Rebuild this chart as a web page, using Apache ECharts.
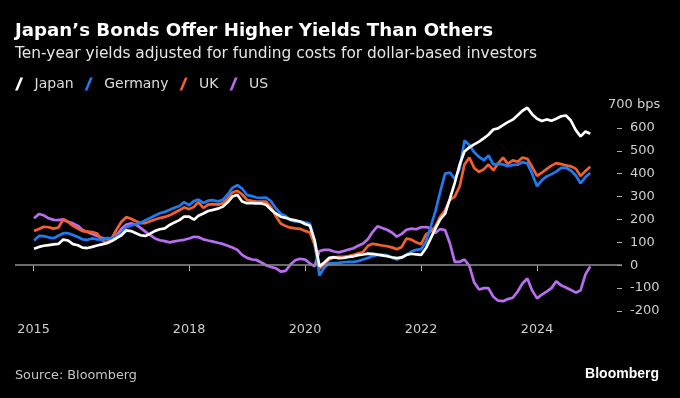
<!DOCTYPE html>
<html>
<head>
<meta charset="utf-8">
<script src="https://cdn.jsdelivr.net/npm/echarts@6/dist/echarts.min.js"></script>
<style>
  html, body { margin: 0; padding: 0; background: #000; }
  #chart { width: 680px; height: 398px; }
</style>
</head>
<body>
<div id="chart"></div>
<script>
// monthly points, May 2015 .. Dec 2024
var months = [];
for (var i = 0; i < 116; i++) {
  var yr = 2015 + Math.floor((4 + i) / 12);
  var mo = ((4 + i) % 12) + 1;
  months.push(yr + "-" + String(mo).padStart(2, "0") + "-01");
}

var japan = [
  72, 80, 85, 88, 91, 93, 112, 108, 92, 87, 77, 75,
  80, 86, 91, 96, 106, 118, 131, 152, 149, 140, 131, 128,
  138, 150, 157, 161, 176, 187, 197, 212, 212, 199, 216, 226,
  237, 242, 247, 256, 275, 300, 308, 278, 271, 271, 270, 270,
  264, 243, 226, 212, 207, 200, 196, 191, 180, 172, 110, -5,
  12, 32, 35, 31, 32, 36, 39, 44, 47, 51, 50, 46,
  43, 39, 35, 31, 34, 45, 50, 47, 45, 75, 115, 160,
  200, 225, 290, 360, 440, 497, 515, 528, 540, 555, 570, 593,
  598, 612, 625, 636, 655, 675, 688, 660, 640, 630, 637, 631,
  640, 651, 654, 632, 590, 563, 584, 574
];
var germany = [
  108, 128, 127, 122, 118, 129, 140, 140, 132, 123, 113, 111,
  117, 113, 112, 118, 118, 125, 140, 166, 174, 179, 185, 197,
  206, 217, 227, 233, 242, 251, 259, 276, 262, 280, 287, 272,
  282, 284, 279, 285, 309, 338, 350, 335, 307, 302, 296, 294,
  295, 280, 249, 225, 215, 197, 191, 191, 187, 181, 110, -45,
  -10, 8, 9, 10, 13, 15, 15, 18, 25, 32, 40, 45,
  45, 44, 33, 25, 34, 45, 60, 67, 70, 104, 165, 235,
  320, 400, 405, 377, 420, 545, 525, 494, 473, 458, 480, 440,
  443, 440, 433, 438, 439, 450, 445, 400, 345, 372, 388, 398,
  409, 425, 426, 414, 392, 358, 385, 403
];
var uk = [
  150, 158, 168, 166, 160, 165, 200, 189, 172, 160, 149, 147,
  145, 138, 110, 97, 118, 155, 190, 210, 203, 192, 184, 184,
  192, 200, 206, 211, 218, 229, 240, 253, 245, 255, 276, 250,
  265, 267, 265, 270, 290, 318, 325, 310, 285, 281, 278, 278,
  278, 254, 215, 182, 171, 164, 161, 159, 150, 143, 90, -15,
  5, 25, 34, 37, 37, 40, 45, 52, 58, 85, 94, 90,
  86, 83, 78, 70, 80, 117, 112, 100, 92, 135, 147, 170,
  213, 240, 285, 300, 345, 440, 470, 425, 408, 420, 440, 415,
  445, 470, 443, 458, 452, 470, 465, 430, 390, 405, 420, 435,
  446, 442, 436, 432, 422, 390, 412, 430
];
var us = [
  205, 224, 218, 205, 198, 197, 201, 190, 183, 172, 154, 145,
  136, 128, 120, 114, 115, 131, 158, 177, 183, 177, 163, 147,
  131, 117, 109, 105, 100, 104, 108, 111, 117, 124, 123, 113,
  108, 103, 98, 93, 85, 77, 67, 45, 32, 25, 23, 12,
  0, -8, -13, -28, -25, 3, 22, 28, 25, 8, -5, 62,
  67, 67, 60, 56, 62, 68, 74, 85, 95, 115, 145, 170,
  163, 155, 143, 125, 137, 155, 160, 157, 166, 167, 162, 141,
  158, 154, 96, 15, 15, 25, -3, -75, -106, -100, -100, -138,
  -155, -157, -148, -142, -115, -80, -58, -110, -145, -128, -115, -100,
  -70, -88, -97, -108, -120, -110, -40, -5
];

var names = ["Japan", "Germany", "UK", "US"];
var colors = ["#ffffff", "#1f7bf2", "#f4602c", "#b96ef2"];
var tickDates = ["2015-04-28", "2018-01-01", "2020-01-01", "2022-01-01", "2024-01-01"];
var tickLabels = ["2015", "2018", "2020", "2022", "2024"];
var yTicks = [-200, -100, 0, 100, 200, 300, 400, 500, 600];

function ts(d) { return Date.parse(d + "T00:00:00Z"); }
var tickTimes = tickDates.map(ts);

var chart = echarts.init(document.getElementById("chart"), null, { renderer: "canvas" });

function makeSeries(idx, values, z) {
  return {
    name: names[idx],
    type: "line",
    symbol: "none",
    z: z,
    data: months.map(function (d, i) { return [ts(d), values[i]]; }),
    lineStyle: { color: colors[idx], width: 2.7 },
    itemStyle: { color: colors[idx] },
    emphasis: { disabled: true }
  };
}

var usSeries = makeSeries(3, us, 2);
usSeries.markLine = {
  silent: true,
  symbol: "none",
  label: { show: false },
  lineStyle: { color: "#8e8e8e", width: 1.5, type: "solid" },
  data: [{ yAxis: 0 }]
};

var option = {
  backgroundColor: "#000000",
  animation: false,
  title: [
    {
      text: "Japan’s Bonds Offer Higher Yields Than Others",
      left: 15, top: 22, padding: 0,
      textStyle: { color: "#ffffff", fontFamily: "DejaVu Sans", fontWeight: "bold", fontSize: 18.2 }
    },
    {
      text: "Ten-year yields adjusted for funding costs for dollar-based investors",
      left: 15, top: 46, padding: 0,
      textStyle: { color: "#e6e6e6", fontFamily: "DejaVu Sans", fontWeight: "normal", fontSize: 15.4 }
    },
    {
      text: "Source: Bloomberg",
      left: 15, top: 369, padding: 0,
      textStyle: { color: "#c4c4c4", fontFamily: "DejaVu Sans", fontWeight: "normal", fontSize: 12.8 }
    },
    {
      text: "Bloomberg",
      right: 21, top: 367, padding: 0,
      textStyle: { color: "#ffffff", fontFamily: "Liberation Sans", fontWeight: "bold", fontSize: 14 }
    }
  ],
  legend: {
    data: names,
    left: 15,
    top: 77,
    padding: 0,
    itemWidth: 21,
    itemHeight: 13,
    itemGap: 11,
    icon: "path://M5,0 L7.5,0 L2.5,12 L0,12 Z",
    textStyle: { color: "#dddddd", fontFamily: "DejaVu Sans", fontSize: 14 },
    selectedMode: false
  },
  grid: {
    left: 15, right: 58, top: 105, height: 206,
    outerBoundsMode: "none"
  },
  xAxis: {
    type: "value",
    min: ts("2015-01-01"),
    max: ts("2025-06-19"),
    axisLine: { show: false },
    splitLine: { show: false },
    axisTick: {
      show: true, length: 6,
      customValues: tickTimes,
      lineStyle: { color: "#b0b0b0", width: 1 }
    },
    axisLabel: {
      customValues: tickTimes,
      margin: 12,
      color: "#cfcfcf",
      fontFamily: "DejaVu Sans",
      fontSize: 12.8,
      formatter: function (v) {
        var k = tickTimes.indexOf(v);
        return k >= 0 ? tickLabels[k] : "";
      }
    }
  },
  yAxis: [
    {
      type: "value",
      position: "right",
      min: -200, max: 700, interval: 100,
      axisLine: { show: false },
      splitLine: { show: false },
      axisTick: {
        show: true, inside: true, length: 5,
        customValues: yTicks,
        lineStyle: { color: "#b0b0b0", width: 1 }
      },
      axisLabel: {
        customValues: yTicks,
        margin: 8,
        color: "#cfcfcf",
        fontFamily: "DejaVu Sans",
        fontSize: 13
      }
    },
    {
      type: "value",
      position: "right",
      offset: -22,
      min: -200, max: 700, interval: 100,
      axisLine: { show: false },
      splitLine: { show: false },
      axisTick: { show: false },
      axisLabel: {
        customValues: [700],
        margin: 8,
        color: "#cfcfcf",
        fontFamily: "DejaVu Sans",
        fontSize: 13,
        formatter: function (v) { return v + " bps"; }
      }
    }
  ],
  series: [
    makeSeries(0, japan, 5),
    makeSeries(1, germany, 4),
    makeSeries(2, uk, 3),
    usSeries
  ]
};

chart.setOption(option);
window.addEventListener("resize", chart.resize);
</script>
</body>
</html>
